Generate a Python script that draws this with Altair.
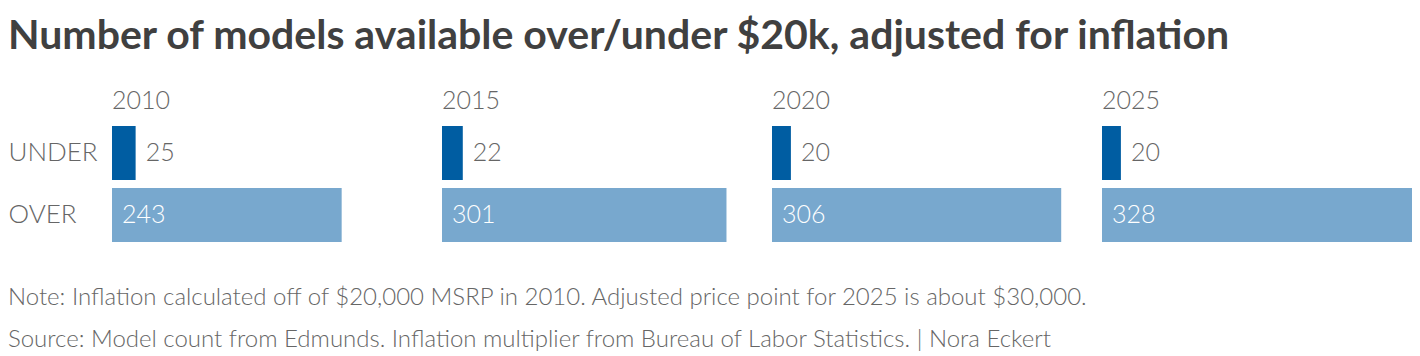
import altair as alt
import pandas as pd

years = ["2010", "2015", "2020", "2025"]
under_counts = [25, 22, 20, 20]
over_counts = [243, 301, 306, 328]
groups = ["UNDER", "OVER"]

title_text = "Number of models available over/under $20k, adjusted for inflation"
notes = [
    "Note: Inflation calculated off of $20,000 MSRP in 2010. Adjusted price point for 2025 is about $30,000.",
    "Source: Model count from Edmunds. Inflation multiplier from Bureau of Labor Statistics. | Nora Eckert",
]

rows = []
for y, u, o in zip(years, under_counts, over_counts):
    rows.append({"year": y, "group": "UNDER", "count": u})
    rows.append({"year": y, "group": "OVER", "count": o})
df = pd.DataFrame(rows)

FONT = "Lato"
GRAY = "#666666"

x = alt.X("count:Q", scale=alt.Scale(domain=[0, 328], nice=False), axis=None)
y = alt.Y(
    "group:N",
    sort=groups,
    scale=alt.Scale(paddingInner=0.129, paddingOuter=0.0645),
    axis=alt.Axis(
        title=None, domain=False, ticks=False, labelAlign="left", labelPadding=104,
        labelFontSize=26, labelFont=FONT, labelFontWeight=300, labelColor=GRAY,
    ),
)

bars = alt.Chart().mark_bar().encode(
    x=x, y=y,
    color=alt.Color("group:N", scale=alt.Scale(domain=groups, range=["#005da2", "#78a8ce"]), legend=None),
)
under_text = alt.Chart().transform_filter(alt.datum.group == "UNDER").mark_text(
    align="left", dx=10, fontSize=25, font=FONT, fontWeight=300, color=GRAY
).encode(x=x, y=y, text="count:Q")
over_text = alt.Chart().transform_filter(alt.datum.group == "OVER").mark_text(
    align="left", dx=10, fontSize=25, font=FONT, fontWeight=300, color="white"
).encode(x=alt.value(0), y=y, text="count:Q")

facet = alt.layer(bars, under_text, over_text, data=df).properties(
    width=310, height=124
).facet(
    column=alt.Column(
        "year:N", sort=years,
        header=alt.Header(
            title=None, labelFontSize=25, labelFont=FONT, labelFontWeight=300, labelColor=GRAY,
            labelAlign="left", labelAnchor="start", labelPadding=8,
        ),
    ),
    spacing=20,
).properties(
    title=alt.TitleParams(
        notes, orient="bottom", anchor="start", fontSize=24, font=FONT, fontWeight=300,
        color=GRAY, lineHeight=42, offset=40, frame="bounds",
    )
)

chart = alt.vconcat(facet).properties(
    title=alt.TitleParams(
        title_text, anchor="start", fontSize=41, font=FONT, fontWeight="bold",
        color="#404040", offset=31, frame="bounds",
    ),
    padding={"left": 0, "top": 8, "right": 0, "bottom": 0},
).configure_view(stroke=None).configure_concat(spacing=0)

chart.save("out.html", embed_options={"renderer": "svg", "actions": False})
